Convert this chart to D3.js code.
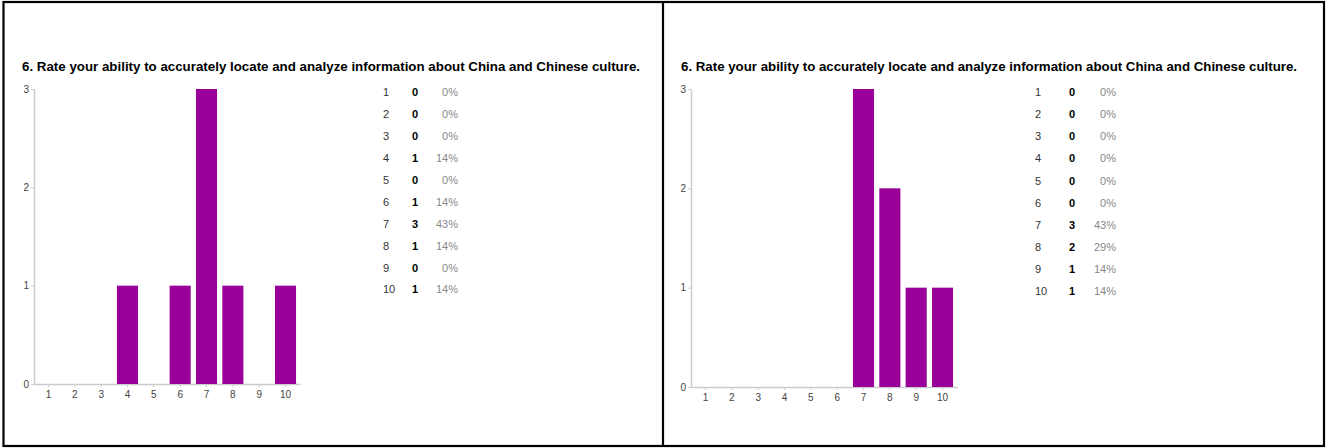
<!DOCTYPE html>
<html>
<head>
<meta charset="utf-8">
<script src="https://cdn.jsdelivr.net/npm/d3@7"></script>
<style>
  html, body { margin: 0; padding: 0; background: #fff; }
  svg { display: block; font-family: Arial, "Liberation Sans", sans-serif; }
</style>
</head>
<body>
<svg id="chart" width="1327" height="448"></svg>
<script>
const title = "6. Rate your ability to accurately locate and analyze information about China and Chinese culture.";
const categories = ["1","2","3","4","5","6","7","8","9","10"];
const countsLeft = [0,0,0,1,0,1,3,1,0,1];
const percentsLeft = ["0%","0%","0%","14%","0%","14%","43%","14%","0%","14%"];
const countsRight = [0,0,0,0,0,0,3,2,1,1];
const percentsRight = ["0%","0%","0%","0%","0%","0%","43%","29%","14%","14%"];
const yTicks = [0,1,2,3];

const svg = d3.select("#chart");

// table frame
svg.append("rect").attr("x",3.5).attr("y",2).attr("width",1320.5).attr("height",444)
  .attr("fill","none").attr("stroke","#000").attr("stroke-width",2.2);
svg.append("line").attr("x1",663).attr("x2",663).attr("y1",2).attr("y2",446)
  .attr("stroke","#000").attr("stroke-width",2.2);

const panels = [
  {counts: countsLeft, pcts: percentsLeft, titleX: 22, titleLen: 618,
   xRange: [34, 300], yRange: [384, 89], tblLabel: 383, tblCount: 415, tblPct: 458, row0: 92.3, rowStep: 21.9},
  {counts: countsRight, pcts: percentsRight, titleX: 681, titleLen: 616,
   xRange: [691, 957], yRange: [387, 89], tblLabel: 1035, tblCount: 1072, tblPct: 1116, row0: 92.3, rowStep: 22.05}
];

panels.forEach(p => {
  const g = svg.append("g");
  g.append("text").attr("x", p.titleX).attr("y", 71)
    .attr("font-size", 12.5).attr("font-weight", "bold").attr("fill", "#000")
    .attr("textLength", p.titleLen).attr("lengthAdjust", "spacingAndGlyphs")
    .text(title);

  const x = d3.scaleBand().domain(categories).range(p.xRange).paddingInner(0.2).paddingOuter(0.15);
  const y = d3.scaleLinear().domain([0,3]).range(p.yRange);

  const xAxis = g.append("g").attr("transform", `translate(0,${p.yRange[0]})`)
    .call(d3.axisBottom(x).tickSize(3).tickSizeOuter(0).tickPadding(4));
  const yAxis = g.append("g").attr("transform", `translate(${p.xRange[0]},0)`)
    .call(d3.axisLeft(y).tickValues(yTicks).tickFormat(d3.format("d")).tickSize(3).tickSizeOuter(0).tickPadding(2));
  [xAxis, yAxis].forEach(a => {
    a.select(".domain").attr("stroke", "#ccc").attr("stroke-width", 1.5);
    a.selectAll(".tick line").attr("stroke", "#ccc");
    a.selectAll(".tick text").attr("fill", "#444").attr("font-size", 10)
      .attr("font-family", "Arial, 'Liberation Sans', sans-serif");
  });

  g.selectAll("rect.bar").data(categories.map((c,i) => ({c, v: p.counts[i]})).filter(d => d.v > 0))
    .enter().append("rect").attr("class","bar")
    .attr("x", d => x(d.c)).attr("width", x.bandwidth())
    .attr("y", d => y(d.v)).attr("height", d => y(0) - y(d.v))
    .attr("fill", "#990099");

  const rows = g.selectAll("g.row").data(categories).enter().append("g")
    .attr("transform", (d,i) => `translate(0,${p.row0 + i*p.rowStep + 4})`);
  rows.append("text").attr("x", p.tblLabel).attr("font-size", 11).attr("fill", "#333").text(d => d);
  rows.append("text").attr("x", p.tblCount).attr("text-anchor","middle").attr("font-size", 11)
    .attr("font-weight","bold").attr("fill","#000").text((d,i) => p.counts[i]);
  rows.append("text").attr("x", p.tblPct).attr("text-anchor","end").attr("font-size", 11)
    .attr("fill","#888").text((d,i) => p.pcts[i]);
});
</script>
</body>
</html>
